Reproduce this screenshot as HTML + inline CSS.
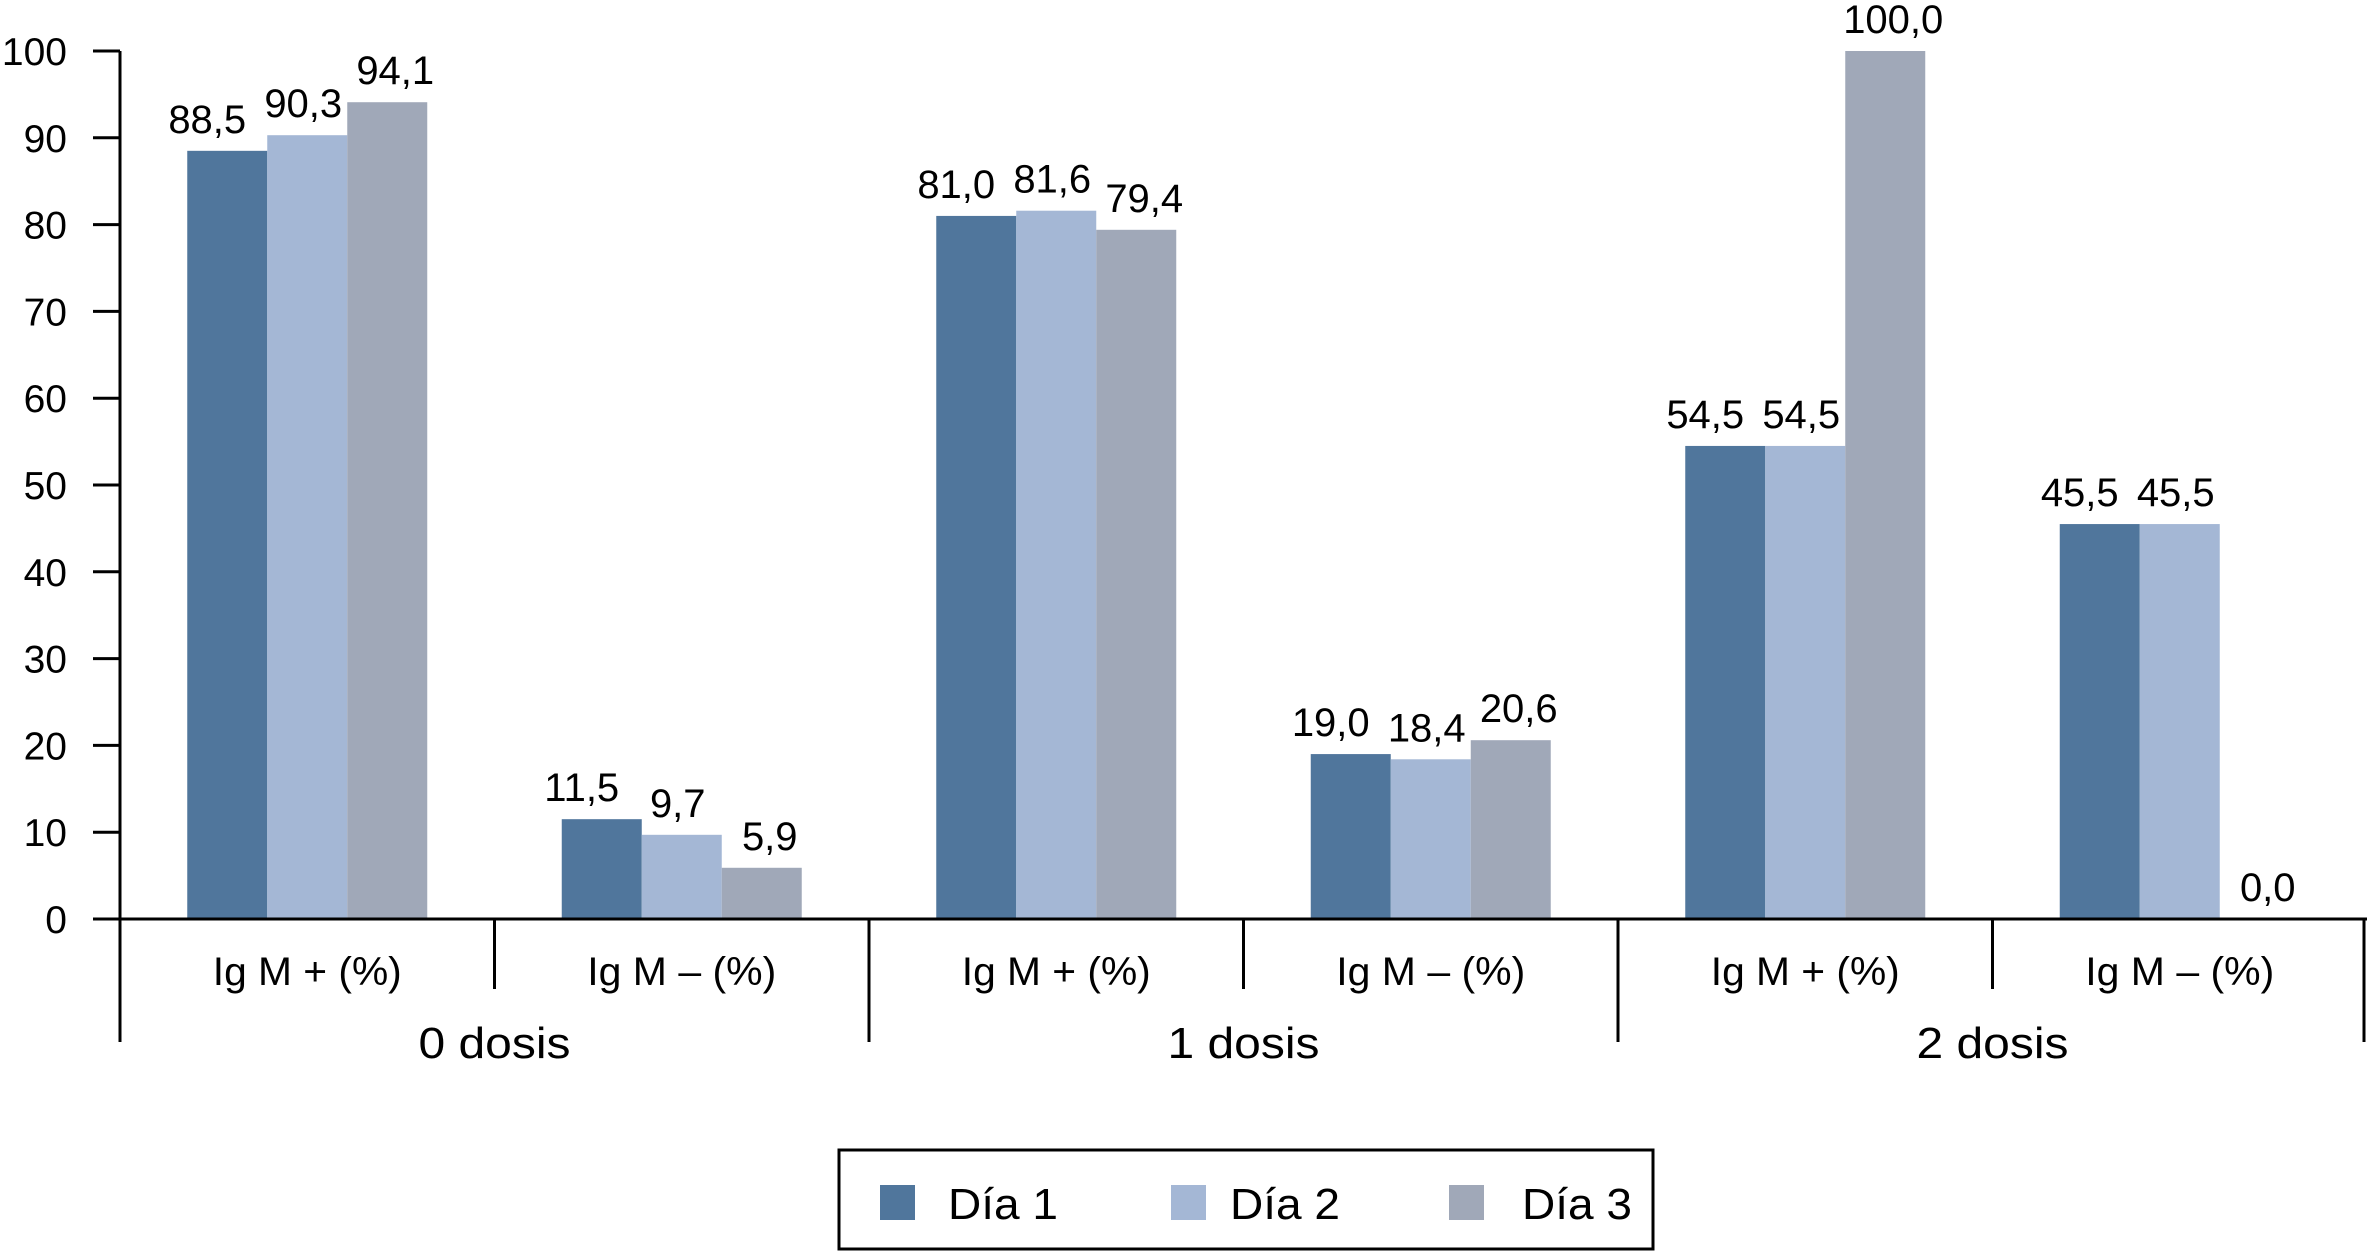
<!DOCTYPE html>
<html><head><meta charset="utf-8"><style>
html,body{margin:0;padding:0;background:#fff;}
svg{display:block;font-family:"Liberation Sans",Arial,sans-serif;}
</style></head><body>
<svg id="chart" width="2367" height="1251" viewBox="0 0 2367 1251" xmlns="http://www.w3.org/2000/svg"></svg>
<script>
const categories = ["Ig M + (%)","Ig M \u2013 (%)","Ig M + (%)","Ig M \u2013 (%)","Ig M + (%)","Ig M \u2013 (%)"];
const doses = ["0 dosis","1 dosis","2 dosis"];
const seriesNames = ["Día 1","Día 2","Día 3"];
const dia1 = [88.5, 11.5, 81.0, 19.0, 54.5, 45.5];
const dia2 = [90.3, 9.7, 81.6, 18.4, 54.5, 45.5];
const dia3 = [94.1, 5.9, 79.4, 20.6, 100.0, 0.0];
const yTicks = [0,10,20,30,40,50,60,70,80,90,100];

const colors = ["#50769c","#a4b7d5","#a0a8b8"];
const labelShift = [-20, -4, 8];
const series = [dia1, dia2, dia3];
const svg = document.getElementById('chart');
const NS = "http://www.w3.org/2000/svg";
const x0 = 120, xEnd = 2367, y0 = 919, yTop = 51;
const catW = (xEnd - x0) / categories.length;
const barW = 80;
function yScale(v){ return y0 - (v/100)*(y0-yTop); }
function xCat(i){ return x0 + i*catW; }
function mk(tag, attrs, text){
  const e = document.createElementNS(NS, tag);
  for (const k in attrs) e.setAttribute(k, attrs[k]);
  if (text !== undefined) e.textContent = text;
  svg.appendChild(e);
  return e;
}
function fmt(v){ return v.toFixed(1).replace('.', ','); }

// bars
series.forEach((s, si) => {
  s.forEach((v, ci) => {
    const bx = xCat(ci) + (catW - 3*barW)/2 + si*barW;
    const r = mk('rect', {x: bx, y: yScale(v), width: barW, height: y0 - yScale(v), fill: colors[si]});
    
    
    const t = mk('text', {x: bx + barW/2 + labelShift[si], y: yScale(v) - 18, 'text-anchor': 'middle', 'font-size': 40, fill: '#000'}, fmt(v));
    
    
  });
});

// y axis
let ax = mk('line', {x1: x0, y1: yTop, x2: x0, y2: 1042, stroke: '#000', 'stroke-width': 3});


yTicks.forEach(v => {
  const tk = mk('line', {x1: 93, y1: yScale(v), x2: x0, y2: yScale(v), stroke: '#000', 'stroke-width': 3});
  
  
  const tl = mk('text', {x: 67, y: yScale(v) + 14, 'text-anchor': 'end', 'font-size': 39, fill: '#000'}, String(v));
  
  
});
// x axis
let xa = mk('line', {x1: 93, y1: y0, x2: xEnd, y2: y0, stroke: '#000', 'stroke-width': 3});


for (let i = 1; i <= categories.length; i++) {
  const isDose = i % 2 === 0;
  const xx = i === categories.length ? xEnd - 3 : xCat(i);
  const d = mk('line', {x1: xx, y1: y0, x2: xx, y2: isDose ? 1042 : 989, stroke: '#000', 'stroke-width': 3});
  
  
}
categories.forEach((c, i) => {
  const t = mk('text', {x: xCat(i) + catW/2, y: 985, 'text-anchor': 'middle', 'font-size': 40, textLength: 189, lengthAdjust: 'spacingAndGlyphs', fill: '#000'}, c);
  
  
});
doses.forEach((d, i) => {
  const t = mk('text', {x: xCat(2*i) + catW, y: 1058, 'text-anchor': 'middle', 'font-size': 44, textLength: 152, lengthAdjust: 'spacingAndGlyphs', fill: '#000'}, d);
  
  
});

// legend
const lg = mk('rect', {x: 839, y: 1150, width: 814, height: 99, fill: '#fff', stroke: '#000', 'stroke-width': 3});


const swX = [880, 1171, 1449], txX = [948, 1230, 1522];
seriesNames.forEach((n, i) => {
  const sw = mk('rect', {x: swX[i], y: 1185, width: 35, height: 35, fill: colors[i]});
  
  
  const t = mk('text', {x: txX[i], y: 1219, 'font-size': 44, textLength: 110, lengthAdjust: 'spacingAndGlyphs', fill: '#000'}, n);
  
  
});
</script>
</body></html>
